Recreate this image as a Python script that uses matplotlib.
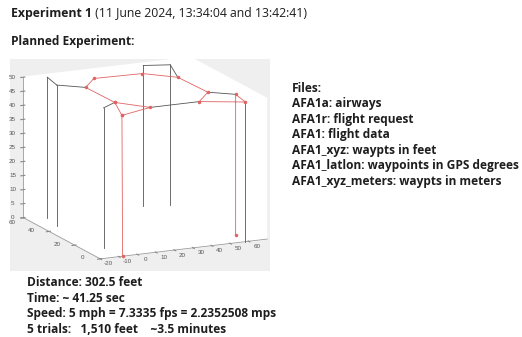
import matplotlib
matplotlib.use('Agg')
import matplotlib.pyplot as plt
from matplotlib.patches import Rectangle
from mpl_toolkits.mplot3d import proj3d

# flight route (feet): takeoff, climb, loop of waypoints, exit, descend
route_x = [-8, -8, -0.5, -1, 10, 35.5, 48, 49, 37.5, 57.5, 59.5, 59.5]
route_y = [0, 0.5, 17, 39, 48.5, 47.5, 38, 16, 6, -1, 9.5, 9.5]
route_z = [0, 50, 50, 50, 50, 50, 50, 50, 50, 50, 50, 0]
# closing leg of the loop
loop_x = [-8, 11, -0.5]
loop_y = [0.5, 6, 17]
loop_z = [50, 50, 50]

# airways: vertical posts and top segments
ALT = 50
post_x = [-9.5, -11.8, -10, 42.5, 55, 57.5]
post_y = [56.6, 45.9, 12, 57, 54, -1]
seg_x0 = [-9.5, -11.8, -10, 42.5, 55, 11, 49]
seg_y0 = [56.6, 45.9, 12, 57, 54, 6, 16]
seg_x1 = [-11.8, -1, -0.5, 55, 48, 37.5, 59.5]
seg_y1 = [45.9, 39, 17, 54, 38, 6, 9.5]

xticks = [-20, -10, 0, 10, 20, 30, 40, 50, 60]
yticks = [0, 20, 40, 60]
zticks = list(range(0, 55, 5))

title_bold = 'Experiment 1'
title_rest = ' (11 June 2024, 13:34:04 and 13:42:41)'
subtitle = 'Planned Experiment:'
files_lines = ['Files:',
               'AFA1a: airways',
               'AFA1r: flight request',
               'AFA1: flight data',
               'AFA1_xyz: waypts in feet',
               'AFA1_latlon: waypoints in GPS degrees',
               'AFA1_xyz_meters: waypts in meters']
stats_lines = ['Distance: 302.5 feet',
               'Time: ~ 41.25 sec',
               'Speed: 5 mph = 7.3335 fps = 2.2352508 mps',
               '5 trials:   1,510 feet    ~3.5 minutes']

W, H = 522, 337
fig = plt.figure(figsize=(W / 100, H / 100), dpi=100)
fig.patch.set_facecolor('white')
plt.rcParams['font.family'] = ['Open Sans', 'DejaVu Sans']


def fx(px):
    return px / W


def fy(py):
    return 1 - py / H


# grey background of the embedded matlab figure
fig.add_artist(Rectangle((fx(10), fy(271)), 260 / W, 212 / H,
                         transform=fig.transFigure, facecolor='#efefef',
                         edgecolor='none', zorder=0))

ax = fig.add_axes([fx(17), fy(286.5), 250 / W, 250 / H], projection='3d')
ax.patch.set_alpha(0)
ax.set_proj_type('ortho')
ax.view_init(elev=14.6, azim=-115.2)
ax.set_box_aspect((183, 179, 144), zoom=1.15)
ax.set_xlim(-20, 70)
ax.set_ylim(0, 60)
ax.set_zlim(0, 50)
ax.grid(False)
for a in (ax.xaxis, ax.yaxis, ax.zaxis):
    a.set_pane_color((1, 1, 1, 1))
    a.pane.set_edgecolor('white')
    a.line.set_color('#9a9a9a')
    a.line.set_linewidth(0.6)
    a.set_tick_params(label1On=False, label2On=False, colors='#8a8a8a')
ax.set_xticks(xticks)
ax.set_yticks(yticks)
ax.set_zticks(zticks)

for x, y in zip(post_x, post_y):
    ax.plot([x, x], [y, y], [0, ALT], color='#555555', lw=0.6)
for x0, y0, x1, y1 in zip(seg_x0, seg_y0, seg_x1, seg_y1):
    ax.plot([x0, x1], [y0, y1], [ALT, ALT], color='#555555', lw=0.6)
ax.plot(route_x, route_y, route_z, color='#e06464', lw=0.6,
        marker='.', ms=3)
ax.plot(loop_x, loop_y, loop_z, color='#e06464', lw=0.6,
        marker='.', ms=3)

# matlab style tick labels, placed through the 3d projection
fig.canvas.draw()
tk = dict(fontsize=4.5, color='#555555', family='Liberation Sans',
          ha='center', va='center')


def tick_label(x, y, z, s, ox, oy):
    # ox, oy: pixel offset from the tick (right, down)
    px, py, _ = proj3d.proj_transform(x, y, z, ax.M)
    dx, dy = ax.transData.transform((px, py))
    fig.text((dx + ox) / W, (dy - oy) / H, s, **tk)


for t in xticks:
    tick_label(t, 0, 0, str(t), 8, 5)
for t in yticks:
    if t == 60:
        tick_label(-20, t, 0, str(t), -11, 5)
    else:
        tick_label(-20, t, 0, str(t), -18, -1)
for t in zticks:
    tick_label(-20, 60, t, str(t), -11, 0)

# slide text
fs = 8.6
t1 = fig.text(fx(11), fy(13), title_bold, fontsize=8.8, fontweight='bold',
              va='center', color='#1e1e1e')
r = fig.canvas.get_renderer()
bb = t1.get_window_extent(r)
fig.text(bb.x1 / W, fy(13), title_rest, fontsize=8.8, va='center',
         color='#1e1e1e')
fig.text(fx(11), fy(41), subtitle, fontsize=fs, fontweight='bold',
         va='center', color='#1e1e1e')
for i, s in enumerate(files_lines):
    fig.text(fx(292), fy(88 + 15.5 * i), s, fontsize=fs,
             fontweight='bold', va='center', color='#1e1e1e')
for i, s in enumerate(stats_lines):
    fig.text(fx(27), fy(283 + 15.4 * i), s, fontsize=fs,
             fontweight='bold', va='center', color='#1e1e1e')

fig.savefig('out.png', dpi=100)
